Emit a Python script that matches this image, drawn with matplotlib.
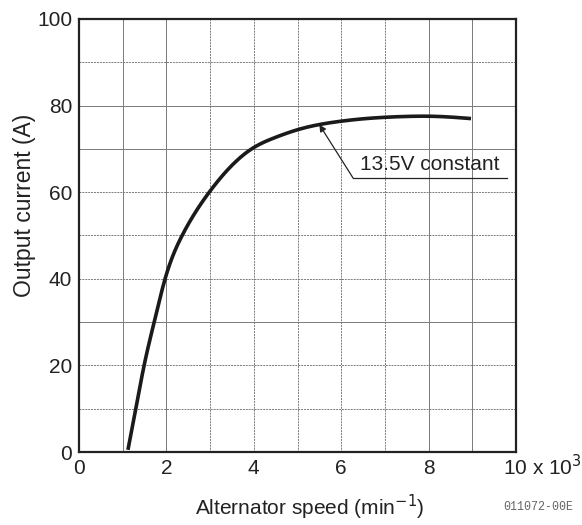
import matplotlib
matplotlib.use("Agg")
import matplotlib.pyplot as plt
import numpy as np

plt.rcParams['font.family'] = ['Liberation Sans', 'DejaVu Sans']

speed = [1.12, 1.30, 1.49, 1.72, 1.97, 2.36, 2.98, 3.95, 4.48, 5.06, 6.0, 6.5, 7.0, 7.5, 8.0, 8.5, 8.97]
current = [0.5, 10, 20, 30, 40, 50, 60, 70, 72.6, 74.6, 76.4, 76.95, 77.3, 77.5, 77.55, 77.35, 77.0]
xticks = [0, 2, 4, 6, 8, 10]
xticklabels = ['0', '2', '4', '6', '8', '']
yticks = [0, 20, 40, 60, 80, 100]


def cubic_spline(x, y, xn):
    x = np.asarray(x, float); y = np.asarray(y, float)
    n = len(x); h = np.diff(x)
    A = np.zeros((n, n)); b = np.zeros(n)
    A[0, 0] = 1; A[-1, -1] = 1
    for i in range(1, n - 1):
        A[i, i-1] = h[i-1]; A[i, i] = 2 * (h[i-1] + h[i]); A[i, i+1] = h[i]
        b[i] = 3 * ((y[i+1] - y[i]) / h[i] - (y[i] - y[i-1]) / h[i-1])
    c = np.linalg.solve(A, b)
    bb = (y[1:] - y[:-1]) / h - h * (2 * c[:-1] + c[1:]) / 3
    d = (c[1:] - c[:-1]) / (3 * h)
    k = np.clip(np.searchsorted(x, xn) - 1, 0, n - 2)
    t = xn - x[k]
    return y[k] + bb[k] * t + c[k] * t**2 + d[k] * t**3


fig = plt.figure(figsize=(5.82, 5.25), dpi=100)
ax = fig.add_axes([79/582, 1-452/525, 437/582, 433/525])

xn = np.linspace(speed[0], speed[-1], 600)
yn = cubic_spline(speed, current, xn)
ax.plot(xn, yn, color='#1a1a1a', lw=2.6, solid_capstyle='butt', zorder=3)

ax.set_xlim(0, 10)
ax.set_ylim(0, 100)
dash = (0, (2, 1))
vstyles = ['-', '-', dash, dash, dash, dash, dash, '-', '-']
hstyles = [dash, dash, '-', dash, dash, dash, '-', '-', dash]
for v, ls in zip(range(1, 10), vstyles):
    ax.axvline(v, color='#7a7a7a', lw=0.7, ls=ls, zorder=1)
for v, ls in zip(range(10, 100, 10), hstyles):
    ax.axhline(v, color='#7a7a7a', lw=0.7, ls=ls, zorder=1)

ax.set_xticks(xticks)
ax.set_xticklabels(xticklabels)
ax.set_yticks(yticks)
ax.tick_params(length=0, labelsize=15, colors='#222222', pad=5)
for s in ax.spines.values():
    s.set_color('#222222'); s.set_linewidth(1.6)

ax.text(9.7, -5.4, '10 x 10$^{3}$', fontsize=15, color='#222222', ha='left', va='baseline')

# annotation
ax.annotate('', xy=(5.5, 75.6), xytext=(6.27, 63.3),
            arrowprops=dict(arrowstyle='-|>', color='#222222', lw=0.9,
                            mutation_scale=10, shrinkA=0, shrinkB=0), zorder=4)
ax.plot([6.27, 9.8], [63.3, 63.3], color='#222222', lw=0.9, zorder=4)
ax.text(6.43, 64.3, '13.5V constant', fontsize=15, color='#222222', va='bottom', ha='left', zorder=4)

fig.text(25/582, 1-205/525, 'Output current (A)', rotation=90, fontsize=16.5,
         ha='center', va='center', color='#222222')
fig.text(310/582, 1-507/525, 'Alternator speed (min$^{-1}$)', fontsize=15,
         ha='center', va='center', color='#222222')
fig.text(538/582, 1-507/525, '011072-00E', fontsize=8.4, family='Liberation Mono',
         ha='center', va='center', color='#666666')

fig.savefig('out.png', dpi=100, facecolor='white')
